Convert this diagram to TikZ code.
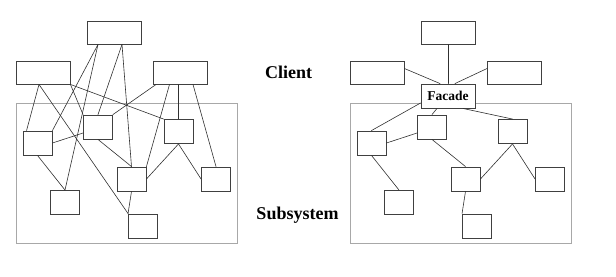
\documentclass[tikz,border=0pt]{standalone}
\usepackage{fontspec}
\setmainfont{Liberation Serif}
\newfontfamily\capfont{Liberation Serif}
\usepackage{xcolor}
\definecolor{boxgray}{HTML}{404040}
\definecolor{linkgray}{HTML}{303030}
\definecolor{framegray}{HTML}{A8A8A8}
\usepackage{tikz}

\begin{document}
\begin{tikzpicture}[x=1pt,y=-1pt,line cap=round,
  client/.style={draw=boxgray,line width=0.9pt,fill=white,inner sep=0pt,
    minimum width=54,minimum height=23},
  part/.style={draw=boxgray,line width=0.9pt,fill=white,inner sep=0pt,
    minimum width=29,minimum height=24},
  link/.style={linkgray,line width=0.6pt},
  frame/.style={framegray,line width=0.8pt},
  heading/.style={font=\capfont\fontsize{18}{20}\selectfont\bfseries,anchor=base}]
  \useasboundingbox (0,0) rectangle (616,276);
  % same subsystem layout on both sides (right one shifted)
  \foreach \side/\dx in {l/0,r/334}{
    \begin{scope}[xshift=\dx,name prefix=\side]
      \draw[frame] (16,103) rectangle (237,243);
      % clients
      \node[client] (Top)   at (114,32.5)  {};
      \node[client] (Left)  at (43,72.5)   {};
      \node[client] (Right) at (180.5,72.5) {};
      % subsystem classes
      \node[part] (A) at (37.5,143)  {};
      \node[part] (B) at (98,127)    {};
      \node[part] (C) at (178.5,131.5) {};
      \node[part] (D) at (131.5,179) {};
      \node[part] (E) at (216,179)   {};
      \node[part] (F) at (65,202.5)  {};
      \node[part] (G) at (143,226)   {};
      \draw[link] (A.east) -- ([yshift=-6]B.west);
      \draw[link] (A.south) -- (F.north);
      \draw[link] (B.south) -- (D.north);
      \draw[link] (C.south) -- (D.east);
      \draw[link] (C.south) -- (E.west);
      \draw[link] (D.south) -- (G.north west);
    \end{scope}
  }
  % without facade: clients reach into the subsystem
  \draw[link] ([xshift=-16]lTop.south) -- (lA.north east);
  \draw[link] ([xshift=-16]lTop.south) -- (lF.north);
  \draw[link] ([xshift=8]lTop.south) -- (lB.north);
  \draw[link] ([xshift=8]lTop.south) -- (lD.north);
  \draw[link] ([xshift=-4]lLeft.south) -- ([xshift=4]lA.north west);
  \draw[link] ([xshift=-4]lLeft.south) -- (lG.north west);
  \draw[link] (lLeft.south east) -- (lB.north west);
  \draw[link] (lLeft.south east) -- (lC.north west);
  \draw[link] ([xshift=3]lRight.south west) -- (lB.north east);
  \draw[link] ([xshift=-11]lRight.south) -- (lD.north east);
  \draw[link] (lC.north |- lRight.south) -- (lC.north);
  \draw[link] ([xshift=12.5]lRight.south) -- (lE.north);
  % with facade
  \node[client,minimum height=24,font=\capfont\fontsize{13.5}{15}\selectfont\bfseries]
    (rFacade) at (448,96) {Facade};
  \draw[link] (rTop.south) -- (rFacade.north);
  \draw[link] ([yshift=4]rLeft.east) -- ([xshift=-8]rFacade.north);
  \draw[link] ([yshift=4]rRight.west) -- ([xshift=7]rFacade.north);
  \draw[link] ([yshift=-7]rFacade.west) -- (rA.north);
  \draw[link] ([xshift=-11]rFacade.south) -- (rB.north);
  \draw[link] ([xshift=15]rFacade.south) -- (rC.north);
  % captions
  \node[heading] (client) at (288.5,78) {Client};
  \node[heading] (subsystem) at (297.5,219) {Subsystem};
\end{tikzpicture}
\end{document}
